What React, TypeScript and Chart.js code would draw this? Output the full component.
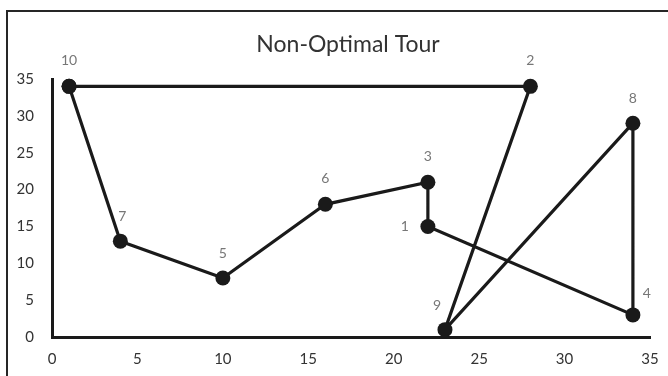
import React, { useEffect, useRef } from "react";
import { Chart, registerables } from "chart.js";

Chart.register(...registerables);

// City coordinates (city number -> x, y)
const cityIds = [1, 2, 3, 4, 5, 6, 7, 8, 9, 10];
const cityX = [22, 28, 22, 34, 10, 16, 4, 34, 23, 1];
const cityY = [15, 34, 21, 3, 8, 18, 13, 29, 1, 34];

// Order in which the cities are visited (closed loop)
const tourOrder = [10, 2, 9, 8, 4, 1, 3, 6, 5, 7, 10];

const chartTitle = "Non-Optimal Tour";
const axisMin = 0;
const axisMax = 35;
const axisStep = 5;

// label placement (style only), relative to the point
const labelOffsets: Record<number, [number, number]> = {
  10: [0, -26],
  2: [0, -26],
  8: [0, -25],
  3: [0, -26],
  6: [0, -26],
  5: [0, -25],
  7: [2, -25],
  1: [-23, 0],
  9: [-8, -24],
  4: [14, -21],
};

const FONT = "Lato, 'Open Sans', 'Liberation Sans', sans-serif";

export default function App() {
  const ref = useRef<HTMLCanvasElement | null>(null);

  useEffect(() => {
    if (!ref.current) return;
    const points = tourOrder.map((id) => {
      const i = cityIds.indexOf(id);
      return { x: cityX[i], y: cityY[i], id };
    });

    const decorPlugin = {
      id: "decor",
      beforeDraw(chart: any) {
        const ctx = chart.ctx;
        ctx.save();
        ctx.strokeStyle = "#262626";
        ctx.lineWidth = 2;
        ctx.beginPath();
        ctx.moveTo(7, 400);
        ctx.lineTo(7, 11);
        ctx.lineTo(700, 11);
        ctx.stroke();
        ctx.restore();
      },
      afterDatasetsDraw(chart: any) {
        const ctx = chart.ctx;
        const ca = chart.chartArea;
        ctx.save();
        ctx.fillStyle = "#333333";
        ctx.font = `23px ${FONT}`;
        ctx.textAlign = "center";
        ctx.textBaseline = "middle";
        ctx.fillText(chartTitle, (ca.left + ca.right) / 2 - 3, 45);

        const meta = chart.getDatasetMeta(0);
        ctx.fillStyle = "#777777";
        ctx.font = `14px ${FONT}`;
        const done = new Set<number>();
        meta.data.forEach((el: any, idx: number) => {
          const id = points[idx].id;
          if (done.has(id)) return;
          done.add(id);
          const off = labelOffsets[id] || [0, -25];
          ctx.fillText(String(id), el.x + off[0], el.y + off[1]);
        });
        ctx.restore();
      },
    };

    const chart = new Chart(ref.current, {
      type: "scatter",
      data: {
        datasets: [
          {
            data: points.map((p) => ({ x: p.x, y: p.y })),
            showLine: true,
            borderColor: "#1a1a1a",
            borderWidth: 3.2,
            backgroundColor: "#1a1a1a",
            pointBackgroundColor: "#1a1a1a",
            pointBorderColor: "#1a1a1a",
            pointRadius: 7.5,
            pointBorderWidth: 0,
            tension: 0,
            clip: false as any,
          },
        ],
      },
      options: {
        animation: false,
        responsive: false,
        maintainAspectRatio: false,
        events: [],
        layout: { padding: { left: 0, right: 18, top: 79, bottom: 0 } },
        plugins: {
          legend: { display: false },
          title: { display: false },
          tooltip: { enabled: false },
        },
        scales: {
          x: {
            type: "linear",
            min: axisMin,
            max: axisMax,
            grid: { display: false },
            border: { display: true, color: "#1a1a1a", width: 3 },
            ticks: {
              stepSize: axisStep,
              color: "#333333",
              font: { family: FONT, size: 15 },
              padding: 5,
            },
            afterFit(scale: any) {
              scale.height = 39;
            },
          },
          y: {
            type: "linear",
            min: axisMin,
            max: axisMax,
            grid: { display: false },
            border: { display: true, color: "#1a1a1a", width: 3 },
            ticks: {
              stepSize: axisStep,
              color: "#333333",
              font: { family: FONT, size: 15 },
              padding: 10,
            },
            afterFit(scale: any) {
              scale.width = 52;
            },
          },
        },
      },
      plugins: [decorPlugin],
    });
    return () => chart.destroy();
  }, []);

  return (
    <div style={{ position: "fixed", left: 0, top: 0, width: 668, height: 376, background: "#fff" }}>
      <canvas ref={ref} width={668} height={376} style={{ display: "block", width: 668, height: 376 }} />
    </div>
  );
}
